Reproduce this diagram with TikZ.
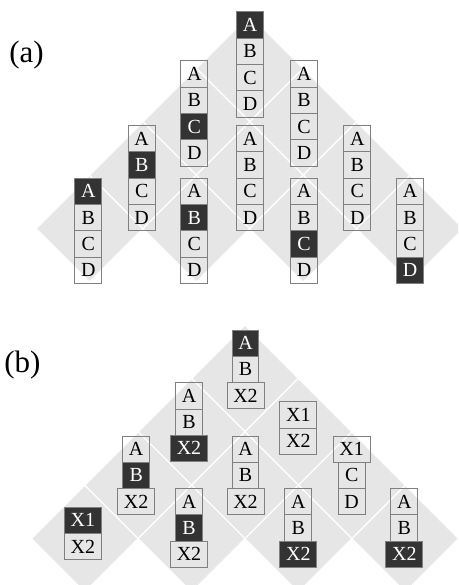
\documentclass[tikz,border=0pt]{standalone}
\usepackage{fontspec}
\setmainfont{Liberation Serif}
\definecolor{bgdiamond}{HTML}{E6E6E6}
\definecolor{boxedge}{HTML}{808080}
\definecolor{boxdark}{HTML}{333333}
\tikzset{
  diam/.style={fill=bgdiamond, draw=white, line width=1.2pt, line join=miter},
  nb/.style={draw=boxedge, line width=1pt, minimum width=26.7pt, minimum height=26.3pt,
    inner sep=0pt, text height=13pt, text depth=0pt,
    font=\fontsize{20}{22}\selectfont},
  nd/.style={nb, fill=boxdark, text=white},
  wb/.style={nb, minimum width=37pt},
  wd/.style={wb, fill=boxdark, text=white},
  lbl/.style={inner sep=0pt, font=\fontsize{31}{35}\selectfont}
}
\newcommand\dgrid[3]{% center x, apex y, half diagonal
  \foreach \r in {1,...,4}{
    \foreach \j in {1,...,\r}{
      \path[diam] ({#1+(2*\j-\r-1)*#3},{#2+\r*#3-#3})
        -- ({#1+(2*\j-\r-1)*#3+#3},{#2+\r*#3})
        -- ({#1+(2*\j-\r-1)*#3},{#2+\r*#3+#3})
        -- ({#1+(2*\j-\r-1)*#3-#3},{#2+\r*#3})
        -- cycle;
    }
  }
}
\newcommand\bstack[4]{% name, x, top y, items
  \foreach \t/\s [count=\i] in {#4}{
    \node[\s] (#1-\i) at (#2,{#3+(\i-0.5)*26.3}) {\t};
  }
}
\begin{document}
\begin{tikzpicture}[x=1pt,y=-1pt]
\useasboundingbox (0,0) rectangle (458,585);
\clip (0,0) rectangle (458,585);
\fill[white] (0,0) rectangle (458,585);
% (a)
\dgrid{249.7}{15}{53.4}
\node[lbl] (la) at (26.5,55.5) {(a)};
\bstack{a1}{250}{12}{A/nd,B/nb,C/nb,D/nb}
\bstack{a2}{194.3}{61}{A/nb,B/nb,C/nd,D/nb}
\bstack{a3}{304}{61}{A/nb,B/nb,C/nb,D/nb}
\bstack{a4}{141.7}{125.5}{A/nb,B/nd,C/nb,D/nb}
\bstack{a5}{250}{125.5}{A/nb,B/nb,C/nb,D/nb}
\bstack{a6}{357.3}{125.5}{A/nb,B/nb,C/nb,D/nb}
\bstack{a7}{88.3}{178.3}{A/nd,B/nb,C/nb,D/nb}
\bstack{a8}{194.3}{178.3}{A/nb,B/nd,C/nb,D/nb}
\bstack{a9}{304}{178.3}{A/nb,B/nb,C/nd,D/nb}
\bstack{a10}{410}{178.3}{A/nb,B/nb,C/nb,D/nd}
% (b)
\dgrid{245}{325}{53.4}
\node[lbl] (lb) at (22.5,365) {(b)};
\bstack{b1}{245.5}{330}{A/nd,B/nb,X2/wb}
\bstack{b2}{189}{382.7}{A/nb,B/nb,X2/wd}
\bstack{b3}{298.3}{401.7}{X1/wb,X2/wb}
\bstack{b4}{136.2}{436}{A/nb,B/nd,X2/wb}
\bstack{b5}{245.5}{436}{A/nb,B/nb,X2/wb}
\bstack{b6}{351.7}{436}{X1/wb,C/nb,D/nb}
\bstack{b7}{82.8}{507.3}{X1/wd,X2/wb}
\bstack{b8}{189}{488.5}{A/nb,B/nd,X2/wb}
\bstack{b9}{298.3}{488.5}{A/nb,B/nb,X2/wd}
\bstack{b10}{404.3}{488.5}{A/nb,B/nb,X2/wd}
\end{tikzpicture}
\end{document}
